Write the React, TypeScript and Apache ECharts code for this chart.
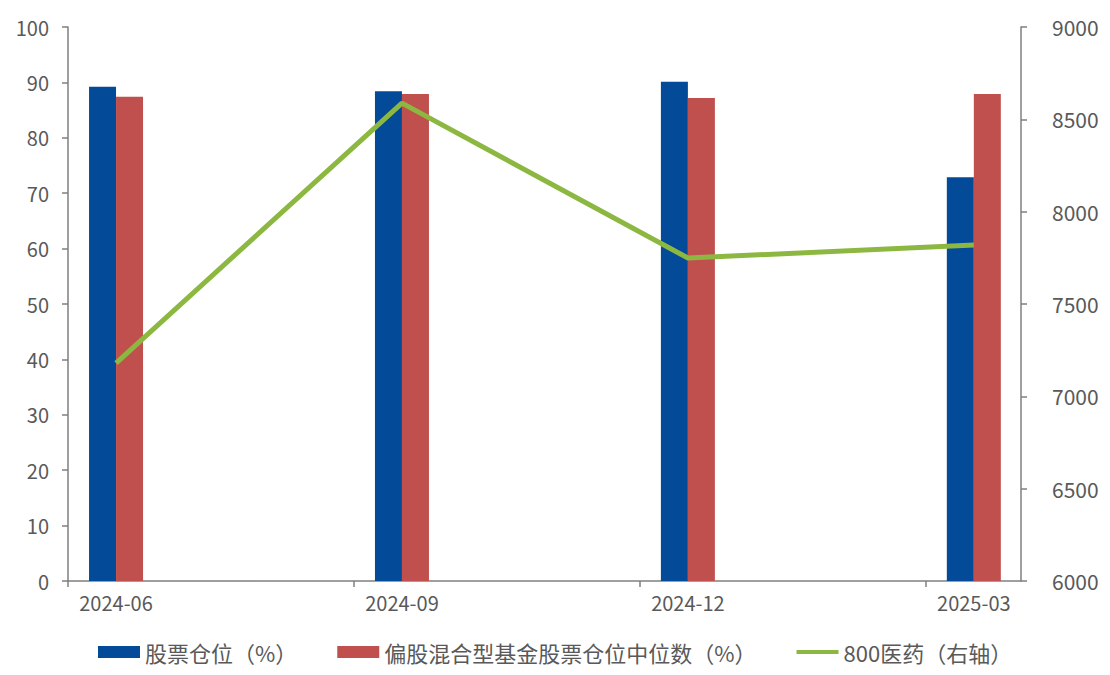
import React, { useEffect, useRef } from "react";
import * as echarts from "echarts";

const categories = ["2024-06", "2024-09", "2024-12", "2025-03"];
const stockPosition = [89.2, 88.4, 90.1, 72.9];
const medianPosition = [87.4, 87.9, 87.2, 87.9];
const pharma800 = [7180, 8588, 7749, 7819];
const leftTicks = [0, 10, 20, 30, 40, 50, 60, 70, 80, 90, 100];
const rightTicks = [6000, 6500, 7000, 7500, 8000, 8500, 9000];

const seriesNames = ["股票仓位（%）", "偏股混合型基金股票仓位中位数（%）", "800医药（右轴）"];

const FONT = "'Noto Sans CJK SC', 'Noto Sans', sans-serif";
const TEXT = "#595959";
const AXIS = "#7f7f7f";

export default function App() {
  const ref = useRef<HTMLDivElement>(null);
  useEffect(() => {
    if (!ref.current) return;
    const chart = echarts.init(ref.current, undefined, { renderer: "svg" });
    const pos = categories.map((_, i) => i);
    chart.setOption({
      animation: false,
      backgroundColor: "#ffffff",
      textStyle: { fontFamily: FONT },
      grid: { left: 68, right: 89, top: 27, bottom: 94, containLabel: false },
      legend: {
        left: 93,
        top: 636,
        itemWidth: 42,
        itemHeight: 12,
        itemGap: 40,
        textStyle: { fontSize: 22, color: TEXT, fontFamily: FONT },
        data: [
          { name: seriesNames[0], icon: "rect" },
          { name: seriesNames[1], icon: "rect" },
          { name: seriesNames[2], icon: "path://M0,0 H40 V4 H0 Z" },
        ],
      },
      xAxis: {
        type: "value",
        min: -0.168,
        max: 3.165,
        splitLine: { show: false },
        axisLine: { show: true, onZero: false, lineStyle: { color: AXIS, width: 1.5 } },
        axisTick: {
          show: true,
          length: 6,
          lineStyle: { color: AXIS, width: 1.5 },
          customValues: pos.map((p) => p - 0.168),
        },
        axisLabel: {
          customValues: pos,
          margin: 11,
          fontSize: 20,
          color: TEXT,
          fontFamily: FONT,
          formatter: (v: number) => categories[Math.round(v)] ?? "",
        },
      },
      yAxis: [
        {
          type: "value",
          min: 0,
          max: 100,
          interval: 10,
          splitLine: { show: false },
          axisLine: { show: true, onZero: false, lineStyle: { color: AXIS, width: 1.5 } },
          axisTick: { show: true, length: 6, lineStyle: { color: AXIS, width: 1.5 } },
          axisLabel: {
            margin: 19,
            fontSize: 20,
            color: TEXT,
            fontFamily: FONT,
            customValues: leftTicks,
            formatter: (v: number) => String(v),
          },
        },
        {
          type: "value",
          position: "right",
          min: 6000,
          max: 9000,
          interval: 500,
          splitLine: { show: false },
          axisLine: { show: true, onZero: false, lineStyle: { color: AXIS, width: 1.5 } },
          axisTick: { show: true, length: 6, lineStyle: { color: AXIS, width: 1.5 } },
          axisLabel: {
            margin: 19,
            padding: [0, 0, 0, 12],
            fontSize: 21,
            color: TEXT,
            fontFamily: FONT,
            customValues: rightTicks,
            formatter: (v: number) => String(v),
          },
        },
      ],
      series: [
        {
          name: seriesNames[0],
          type: "bar",
          barWidth: 27,
          barGap: "0%",
          itemStyle: { color: "#034a98" },
          data: stockPosition.map((v, i) => [pos[i], v]),
        },
        {
          name: seriesNames[1],
          type: "bar",
          barWidth: 27,
          barGap: "0%",
          itemStyle: { color: "#c0504d" },
          data: medianPosition.map((v, i) => [pos[i], v]),
        },
        {
          name: seriesNames[2],
          type: "line",
          yAxisIndex: 1,
          symbol: "none",
          showSymbol: false,
          lineStyle: { color: "#8cb841", width: 5 },
          itemStyle: { color: "#8cb841" },
          data: pharma800.map((v, i) => [pos[i], v]),
        },
      ],
    });
    return () => chart.dispose();
  }, []);
  return <div ref={ref} style={{ width: 1110, height: 675, position: "absolute", left: 0, top: 0 }} />;
}
